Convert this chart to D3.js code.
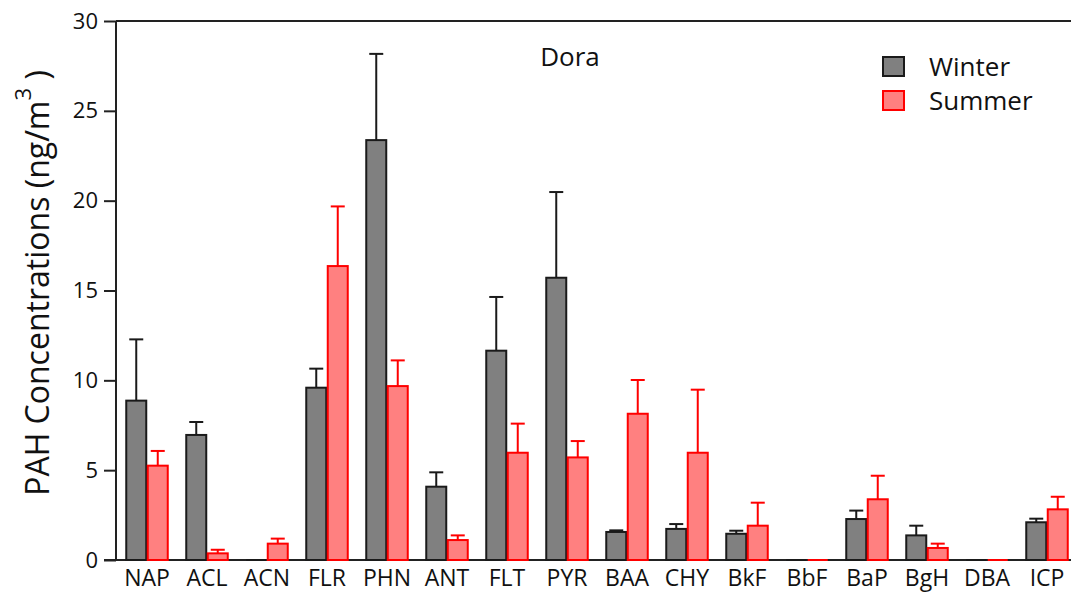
<!DOCTYPE html>
<html><head><meta charset="utf-8">
<script src="https://cdn.jsdelivr.net/npm/d3@7"></script>
<style>body{margin:0;background:#fff}svg{display:block}text{font-family:"Open Sans","Noto Sans",sans-serif}</style>
</head><body><svg id="c" width="1071" height="595"></svg>
<script>
const categories = ["NAP","ACL","ACN","FLR","PHN","ANT","FLT","PYR","BAA","CHY","BkF","BbF","BaP","BgH","DBA","ICP"];
const winter      = [8.87,6.96,0,9.59,23.37,4.08,11.65,15.71,1.56,1.73,1.46,0,2.28,1.37,0,2.10];
const winterErr   = [3.41,0.72,0,1.06,4.80,0.80,2.99,4.77,0.09,0.27,0.17,0,0.47,0.54,0,0.20];
const summer      = [5.25,0.37,0.91,16.36,9.68,1.11,5.97,5.71,8.14,5.97,1.91,0,3.38,0.67,0,2.82];
const summerErr   = [0.82,0.20,0.28,3.32,1.43,0.26,1.62,0.91,1.88,3.51,1.28,0,1.31,0.24,0,0.70];
const yTicks = [0,5,10,15,20,25,30];
const seriesNames = ["Winter","Summer"];

const svg = d3.select("#c");
const L = 116, R = 1071, T = 21, B = 560;
const x = d3.scaleBand().domain(categories).range([117, 1077]).padding(0);
const y = d3.scaleLinear().domain([0, 30]).range([B, T]);
const barW = 20, gap = 1.5;
const FF = '"Open Sans","Noto Sans",sans-serif';

const styles = [
  {vals: winter, err: winterErr, fill: "#808080", stroke: "#1a1a1a", off: -barW - gap/2},
  {vals: summer, err: summerErr, fill: "#ff8080", stroke: "#ff0000", off: gap/2}
];

// top frame line
svg.append("line").attr("x1", L).attr("x2", R).attr("y1", T).attr("y2", T)
  .attr("stroke", "#222").attr("stroke-width", 2);

// y axis
const yAxis = svg.append("g").attr("transform", `translate(${L},0)`)
  .call(d3.axisLeft(y).tickValues(yTicks).tickSize(12).tickPadding(6));
yAxis.select(".domain").attr("stroke", "#222").attr("stroke-width", 2).attr("d", `M0,${T}V${B}`);
yAxis.selectAll(".tick line").attr("stroke", "#222").attr("stroke-width", 2);
yAxis.selectAll(".tick text").attr("font-size", 22).attr("fill", "#111").style("font-family", FF);

// x axis
const xAxis = svg.append("g").attr("transform", `translate(0,${B})`)
  .call(d3.axisBottom(x).tickSize(0).tickPadding(10));
xAxis.select(".domain").attr("stroke", "#222").attr("stroke-width", 2).attr("d", `M104,0H${R}`);
xAxis.selectAll(".tick text").attr("font-size", 23).attr("fill", "#111").style("font-family", FF);

// bars + error bars
styles.forEach(s => {
  const g = svg.append("g");
  categories.forEach((c, i) => {
    const cx = x(c) + x.bandwidth()/2 + s.off;
    const v = s.vals[i], e = s.err[i];
    if (v > 0) {
      g.append("rect").attr("x", cx).attr("y", y(v)).attr("width", barW)
        .attr("height", y(0) - y(v))
        .attr("fill", s.fill).attr("stroke", s.stroke).attr("stroke-width", 2);
    } else {
      g.append("line").attr("x1", cx).attr("x2", cx + barW).attr("y1", y(0)).attr("y2", y(0))
        .attr("stroke", s.stroke).attr("stroke-width", 2);
    }
    if (e > 0) {
      const mx = cx + barW/2;
      g.append("line").attr("x1", mx).attr("x2", mx).attr("y1", y(v)).attr("y2", y(v+e))
        .attr("stroke", s.stroke).attr("stroke-width", 2);
      g.append("line").attr("x1", mx-7).attr("x2", mx+7).attr("y1", y(v+e)).attr("y2", y(v+e))
        .attr("stroke", s.stroke).attr("stroke-width", 2);
    }
  });
});

// title
svg.append("text").attr("x", 570).attr("y", 66).attr("text-anchor", "middle")
  .attr("font-size", 26).attr("fill", "#111").text("Dora");

// legend
seriesNames.forEach((n, i) => {
  const s = styles[i];
  svg.append("rect").attr("x", 883).attr("y", 57 + i*34).attr("width", 21).attr("height", 19)
    .attr("fill", s.fill).attr("stroke", s.stroke).attr("stroke-width", 2);
  svg.append("text").attr("x", 929).attr("y", 76 + i*34).attr("font-size", 26).attr("fill", "#111").text(n);
});

// y label
const yl = svg.append("text").attr("transform", "translate(49,283) rotate(-90)")
  .attr("text-anchor", "middle").attr("font-size", 32).attr("fill", "#111");
yl.append("tspan").text("PAH Concentrations (ng/m");
yl.append("tspan").attr("dy", -18).attr("font-size", 22).text("3");
yl.append("tspan").attr("dy", 18).text(" )");
</script></body></html>
